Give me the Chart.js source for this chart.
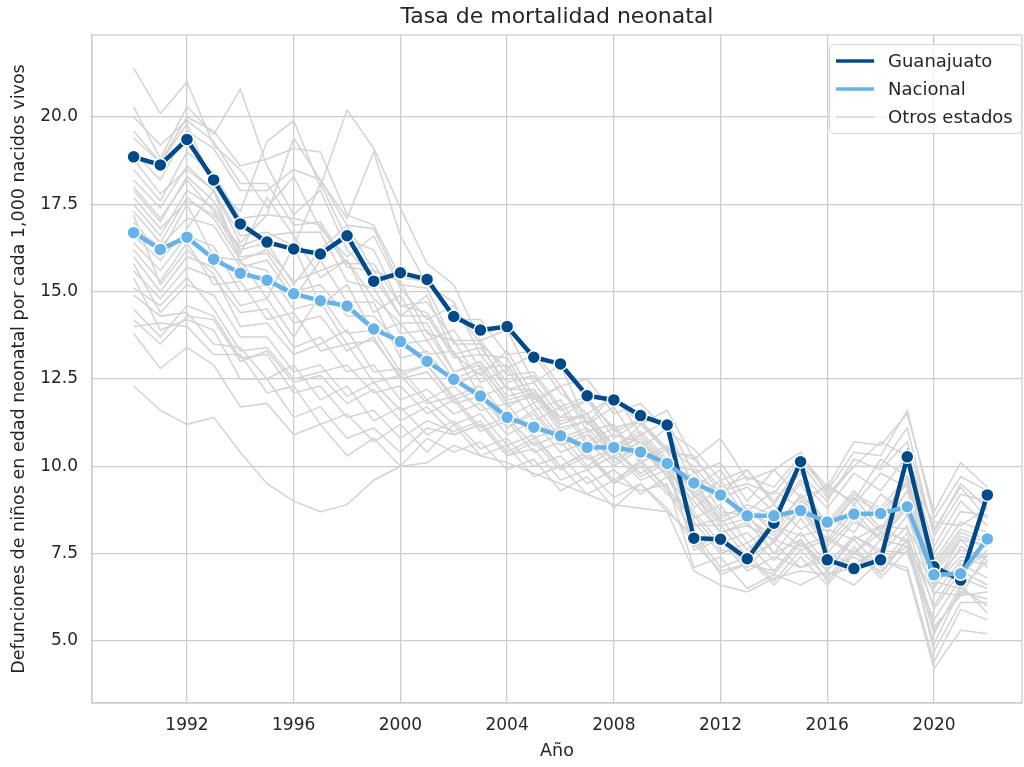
<!DOCTYPE html>
<html>
<head>
<meta charset="utf-8">
<script src="https://cdn.jsdelivr.net/npm/chart.js@4.4.1/dist/chart.umd.min.js"></script>
<style>
  html, body { margin: 0; padding: 0; background: #ffffff; }
  #wrap { width: 1024px; height: 767px; }
</style>
</head>
<body>
<div id="wrap"><canvas id="c" width="1024" height="767"></canvas></div>
<script>
const years = [1990,1991,1992,1993,1994,1995,1996,1997,1998,1999,2000,2001,2002,2003,2004,2005,2006,2007,2008,2009,2010,2011,2012,2013,2014,2015,2016,2017,2018,2019,2020,2021,2022];

const guanajuato = [18.86,18.63,19.36,18.2,16.94,16.42,16.22,16.08,16.6,15.3,15.54,15.35,14.29,13.9,14.0,13.12,12.93,12.02,11.9,11.45,11.18,7.94,7.91,7.35,8.37,10.13,7.32,7.07,7.32,10.27,7.12,6.74,9.18];

const nacional = [16.69,16.21,16.56,15.93,15.53,15.33,14.94,14.74,14.59,13.93,13.57,13.01,12.49,12.01,11.4,11.12,10.87,10.54,10.54,10.41,10.08,9.52,9.18,8.58,8.58,8.73,8.4,8.63,8.65,8.84,6.89,6.92,7.92];

const otros01 = [21.4,20.1,21.0,19.2,18.5,17.4,18.3,16.8,16.0,16.6,15.1,14.2,14.6,13.5,12.8,13.2,12.1,11.5,12.0,11.2,11.6,10.2,10.8,9.6,9.9,10.4,9.2,10.0,10.7,10.3,8.2,9.4,8.5];
const otros02 = [20.3,18.8,20.3,19.5,20.8,18.6,17.2,17.9,16.2,15.4,14.3,14.9,13.2,12.6,13.3,12.0,11.4,11.9,10.8,11.3,10.4,8.8,9.4,8.3,7.9,8.7,7.7,8.5,7.9,8.8,6.6,7.9,7.1];
const otros03 = [19.4,18.7,19.8,18.0,17.3,19.3,19.9,18.0,20.2,19.1,17.4,15.8,15.2,13.6,13.9,12.4,12.9,11.2,11.7,10.5,11.1,9.4,9.9,8.7,9.3,8.8,9.5,8.9,9.8,9.4,7.5,8.7,8.6];
const otros04 = [18.2,17.4,18.6,17.9,16.4,17.2,19.4,18.2,17.1,19.0,16.6,15.2,14.7,13.2,13.1,11.8,12.3,11.0,11.2,10.2,10.6,9.1,9.6,8.5,8.9,8.2,8.6,8.1,9.2,8.6,6.9,7.9,7.7];
const otros05 = [17.9,17.0,18.3,17.6,16.1,17.7,16.6,15.4,15.9,14.4,14.9,13.6,13.9,12.8,12.9,11.9,12.3,11.2,12.1,10.9,11.3,9.8,10.1,9.0,9.9,9.1,9.4,9.0,10.2,9.7,8.4,8.3,8.8];
const otros06 = [17.5,16.6,17.9,17.4,16.2,16.4,15.2,16.2,16.9,15.6,15.3,13.8,13.6,12.4,12.8,11.6,11.9,10.7,11.1,10.1,10.5,8.5,8.9,7.8,8.3,7.7,8.0,7.5,8.1,7.9,6.0,7.2,6.8];
const otros07 = [17.0,16.1,17.5,16.0,15.9,14.8,16.3,14.6,15.2,13.8,14.1,13.2,13.3,12.0,12.3,11.3,11.7,10.6,10.9,10.7,10.0,9.9,8.7,8.6,7.8,8.8,7.9,8.9,8.1,9.3,6.7,7.6,7.4];
const otros08 = [16.6,15.9,16.8,17.9,15.8,15.6,14.5,14.7,13.5,13.6,12.6,12.9,11.9,12.2,11.1,11.5,10.6,10.9,10.2,10.6,9.7,9.6,8.4,8.7,7.5,7.9,7.0,8.0,7.6,8.6,6.3,7.3,7.2];
const otros09 = [16.2,15.3,16.4,15.2,15.3,14.2,14.4,13.3,13.5,12.4,12.6,11.8,12.0,11.1,11.4,10.6,10.9,10.0,10.5,9.7,10.1,7.6,7.9,7.0,7.4,7.1,7.5,7.2,7.6,7.5,5.6,6.8,6.5];
const otros10 = [15.8,14.4,15.2,14.9,13.7,13.7,12.7,12.9,12.0,12.4,11.6,11.9,11.2,11.5,10.6,10.9,10.0,10.4,9.6,10.1,9.4,8.4,7.5,7.8,7.0,7.9,7.1,7.4,7.0,7.9,5.2,6.6,5.8];
const otros11 = [15.4,13.9,14.2,13.9,12.5,12.5,11.4,11.7,10.8,11.1,10.4,11.1,10.9,11.2,10.3,10.7,9.9,10.3,9.5,10.0,9.2,8.6,7.6,7.5,6.7,7.6,6.8,7.7,6.9,7.9,4.7,6.1,6.1];
const otros12 = [14.9,14.3,14.4,13.5,13.4,12.5,12.9,11.9,12.3,11.3,11.7,10.9,11.3,10.5,10.8,10.0,10.3,9.5,9.9,9.2,9.7,8.3,8.3,7.4,7.8,7.1,7.3,7.0,7.9,7.7,6.4,6.3,7.5];
const otros13 = [14.0,14.1,14.0,13.2,13.2,12.1,12.3,11.2,11.5,10.7,11.2,10.4,11.2,10.3,10.6,9.7,10.0,9.2,9.6,9.3,9.5,7.1,7.4,6.5,6.9,6.6,7.0,6.6,7.3,7.1,4.4,5.9,5.6];
const otros14 = [12.3,11.6,11.2,11.4,10.4,9.5,9.0,8.7,8.9,9.6,10.0,10.1,10.6,10.3,10.1,9.8,9.5,9.2,8.9,8.8,8.7,7.0,6.6,6.4,6.8,7.0,6.9,7.1,7.3,7.0,4.2,5.3,5.2];
const otros15 = [13.8,12.8,13.4,12.9,11.7,11.8,10.9,11.2,10.3,10.8,10.0,10.8,10.4,10.7,9.9,10.2,9.3,9.7,8.8,9.5,8.7,8.0,6.9,7.2,6.9,7.8,7.0,7.9,7.1,8.1,5.4,6.3,6.4];
const otros16 = [19.0,18.2,19.6,19.1,17.9,17.9,18.5,18.2,16.9,16.8,15.2,15.1,13.5,13.5,12.2,12.2,11.3,11.5,10.5,10.8,10.0,9.7,9.3,9.5,9.2,10.2,9.3,10.4,10.3,11.6,8.5,9.7,9.3];
const otros17 = [18.5,17.6,19.0,18.4,17.1,17.2,17.1,16.9,15.7,15.6,14.3,14.3,13.1,13.2,12.2,12.4,11.4,11.4,10.4,11.2,10.4,10.3,9.2,9.9,8.9,10.1,9.1,10.0,10.0,11.1,8.0,9.2,9.0];
const otros18 = [17.2,15.2,16.2,15.5,14.0,14.1,13.2,13.5,13.9,12.7,12.8,11.9,12.3,11.6,11.8,10.8,11.1,10.2,10.5,9.8,10.2,8.3,8.5,7.6,8.3,8.0,8.2,7.9,8.3,8.2,7.0,6.9,7.6];
const otros19 = [16.8,16.3,17.1,16.9,15.7,15.9,14.8,15.9,14.7,14.7,13.1,13.3,12.3,12.7,11.7,12.1,11.1,11.3,10.3,10.7,10.0,9.4,8.5,8.9,8.6,9.5,8.3,9.2,8.8,9.7,7.2,8.2,7.9];
const otros20 = [15.1,14.6,15.4,14.5,13.3,13.4,12.5,12.7,12.9,12.1,12.3,11.5,11.9,11.0,11.3,10.4,10.7,9.9,10.3,9.6,9.9,7.7,8.0,7.1,7.9,7.6,7.9,7.5,8.3,7.8,6.7,6.5,7.3];
const otros21 = [20.0,19.2,19.9,19.3,18.1,18.1,16.9,17.0,15.8,15.8,14.6,14.7,13.6,13.6,12.6,12.7,11.7,12.0,11.0,11.3,10.5,10.0,9.1,9.4,8.7,9.6,8.8,9.8,9.3,10.3,7.7,9.0,8.3];
const otros22 = [18.0,17.1,18.2,17.3,16.0,16.1,15.0,15.2,14.3,14.3,13.5,13.6,12.5,12.8,11.9,12.1,11.2,11.5,10.6,11.0,10.2,9.2,8.3,8.5,8.0,9.0,8.1,9.1,8.2,9.3,7.0,8.0,7.7];
const otros23 = [14.5,13.7,14.6,14.3,13.1,13.2,12.1,12.3,11.4,11.6,10.8,11.3,11.0,11.3,10.4,10.8,10.0,10.4,9.5,10.2,9.3,8.1,7.1,7.4,6.6,7.4,6.6,7.5,7.2,7.7,4.9,6.5,6.0];
const otros24 = [17.7,16.8,17.6,17.2,16.3,16.6,16.7,16.7,15.3,15.1,13.8,13.9,12.7,13.0,12.0,12.2,11.2,11.5,10.6,10.9,10.1,9.3,8.4,8.7,8.3,9.1,8.2,9.1,8.7,9.5,7.1,8.1,7.8];
const otros25 = [15.6,14.8,15.7,15.4,14.4,14.5,13.4,13.7,12.7,12.9,11.9,12.2,11.5,11.8,10.9,11.3,10.4,10.7,10.0,10.5,9.7,8.7,7.8,8.1,7.3,8.1,7.2,8.0,7.5,8.3,5.9,7.0,6.6];
const otros26 = [19.6,18.7,20.0,19.6,18.6,18.8,19.1,19.0,17.2,16.9,15.4,15.3,14.2,14.2,13.2,13.3,12.3,12.5,11.5,11.8,11.0,10.5,9.6,9.9,9.0,9.8,9.0,10.2,9.9,10.7,8.1,9.5,8.8];
const otros27 = [16.0,15.0,16.0,15.7,14.6,14.8,13.7,14.9,13.8,13.9,12.7,12.9,12.0,12.3,11.4,11.8,10.8,11.1,10.3,10.7,9.9,9.0,8.1,8.3,7.9,8.8,7.8,8.7,7.9,8.9,6.5,7.7,7.3];
const otros28 = [18.8,17.8,18.5,17.9,16.6,16.7,16.3,18.1,16.5,16.2,14.6,14.4,13.2,13.4,12.4,12.6,11.6,11.9,11.1,11.3,10.5,10.2,9.4,9.7,9.4,10.3,9.4,10.7,10.6,11.5,8.7,10.1,9.4];
const otros29 = [14.2,13.5,14.3,14.2,13.0,13.3,12.4,12.6,11.8,12.2,11.3,11.7,10.9,11.2,10.3,10.5,9.6,9.9,9.1,9.5,8.8,7.8,7.0,7.2,7.0,7.9,6.7,7.6,6.8,7.6,5.3,6.4,6.2];
const otros30 = [16.4,15.6,16.6,16.3,15.0,15.2,14.1,14.3,13.3,13.7,12.5,12.7,11.8,12.0,11.1,11.6,10.7,11.0,10.1,10.6,9.8,9.2,8.1,8.4,7.5,8.5,7.5,8.4,8.0,9.0,6.6,7.4,7.4];
const otros31 = [17.3,16.4,17.7,17.1,15.9,16.2,15.3,15.6,15.9,14.8,14.1,14.1,12.7,12.9,11.8,12.0,11.0,11.3,10.4,10.9,10.1,9.5,8.6,8.8,8.1,9.2,8.4,9.3,8.5,9.6,7.3,8.4,8.1];

const otrosEstados = [otros01,otros02,otros03,otros04,otros05,otros06,otros07,otros08,otros09,otros10,otros11,otros12,otros13,otros14,otros15,otros16,otros17,otros18,otros19,otros20,otros21,otros22,otros23,otros24,otros25,otros26,otros27,otros28,otros29,otros30,otros31];

const xTicks = [1992,1996,2000,2004,2008,2012,2016,2020];
const yTicks = [5.0,7.5,10.0,12.5,15.0,17.5,20.0];

const seriesNames = ['Guanajuato','Nacional','Otros estados'];
const titleText = 'Tasa de mortalidad neonatal';
const xTitle = 'Año';
const yTitle = 'Defunciones de niños en edad neonatal por cada 1,000 nacidos vivos';

const C_GTO = '#004a89';
const C_NAC = '#67b2e7';
const C_OTR = '#d3d3d3';
const TXT = '#262626';
const GRID = '#cccccc';
const FONT = 'DejaVu Sans';

const toPts = arr => arr.map((v, i) => ({x: years[i], y: v}));

const datasets = [];
otrosEstados.forEach(arr => {
  datasets.push({
    label: seriesNames[2], data: toPts(arr), borderColor: C_OTR, borderWidth: 1.5,
    pointRadius: 0, pointHoverRadius: 0, fill: false, tension: 0, order: 3
  });
});
datasets.push({
  label: seriesNames[0], data: toPts(guanajuato), borderColor: C_GTO, borderWidth: 4.5,
  pointRadius: 6.5, pointBackgroundColor: C_GTO, pointBorderColor: '#ffffff', pointBorderWidth: 1.5,
  fill: false, tension: 0, order: 2
});
datasets.push({
  label: seriesNames[1], data: toPts(nacional), borderColor: C_NAC, borderWidth: 4.5,
  pointRadius: 6.5, pointBackgroundColor: C_NAC, pointBorderColor: '#ffffff', pointBorderWidth: 1.5,
  fill: false, tension: 0, order: 1
});

const frameAndLegend = {
  id: 'frameAndLegend',
  beforeDatasetsDraw(chart) {
    const {ctx, chartArea: a} = chart;
    ctx.save();
    ctx.strokeStyle = GRID;
    ctx.lineWidth = 1.25;
    ctx.strokeRect(a.left, a.top, a.right - a.left, a.bottom - a.top);
    ctx.restore();
  },
  afterDraw(chart) {
    const {ctx} = chart;
    const bx = 829, by = 44, bw = 192, bh = 89;
    ctx.save();
    ctx.beginPath();
    if (ctx.roundRect) ctx.roundRect(bx + 0.5, by + 0.5, bw, bh, 4); else ctx.rect(bx + 0.5, by + 0.5, bw, bh);
    ctx.fillStyle = 'rgba(255,255,255,0.8)';
    ctx.fill();
    ctx.strokeStyle = '#d6d6d6';
    ctx.lineWidth = 1;
    ctx.stroke();
    const rows = [
      {name: seriesNames[0], color: C_GTO, w: 3.5, y: 61},
      {name: seriesNames[1], color: C_NAC, w: 3.5, y: 89},
      {name: seriesNames[2], color: C_OTR, w: 1.5, y: 117}
    ];
    ctx.font = '18px "' + FONT + '"';
    ctx.textBaseline = 'middle';
    ctx.textAlign = 'left';
    rows.forEach(r => {
      ctx.beginPath();
      ctx.moveTo(836, r.y);
      ctx.lineTo(874, r.y);
      ctx.strokeStyle = r.color;
      ctx.lineWidth = r.w;
      ctx.stroke();
      ctx.fillStyle = TXT;
      ctx.fillText(r.name, 888, r.y + 1);
    });
    ctx.restore();
  }
};

new Chart(document.getElementById('c'), {
  type: 'line',
  data: { datasets },
  plugins: [frameAndLegend],
  options: {
    responsive: false,
    animation: false,
    devicePixelRatio: 1,
    layout: { autoPadding: false, padding: { top: 0, right: 2, left: 0, bottom: 0 } },
    plugins: {
      legend: { display: false },
      tooltip: { enabled: false },
      title: {
        display: true, text: titleText, color: TXT, fullSize: false,
        font: { family: FONT, size: 22, weight: 'normal' },
        padding: { top: 4, bottom: 4.6 }
      }
    },
    scales: {
      x: {
        type: 'linear', min: 1988.44, max: 2023.3,
        afterBuildTicks: ax => { ax.ticks = xTicks.map(v => ({value: v})); },
        afterFit: ax => { ax.height = 64; },
        ticks: { color: TXT, font: { family: FONT, size: 17 }, padding: 12, maxRotation: 0, autoSkip: false, callback: v => String(v) },
        grid: { color: GRID, lineWidth: 1.25, drawTicks: false },
        border: { color: GRID, width: 1.25 },
        title: { display: true, text: xTitle, color: TXT, font: { family: FONT, size: 17.5 }, padding: { top: 0, bottom: 5 } }
      },
      y: {
        type: 'linear', min: 3.22, max: 22.35,
        afterBuildTicks: ax => { ax.ticks = yTicks.map(v => ({value: v})); },
        afterFit: ax => { ax.width = 92; },
        ticks: { color: TXT, font: { family: FONT, size: 17 }, padding: 14, autoSkip: false, callback: v => Number(v).toFixed(1) },
        grid: { color: GRID, lineWidth: 1.25, drawTicks: false },
        border: { color: GRID, width: 1.25 },
        title: { display: true, text: yTitle, color: TXT, font: { family: FONT, size: 17.5 }, padding: { top: 9, bottom: 0 } }
      }
    }
  }
});
</script>
</body>
</html>
